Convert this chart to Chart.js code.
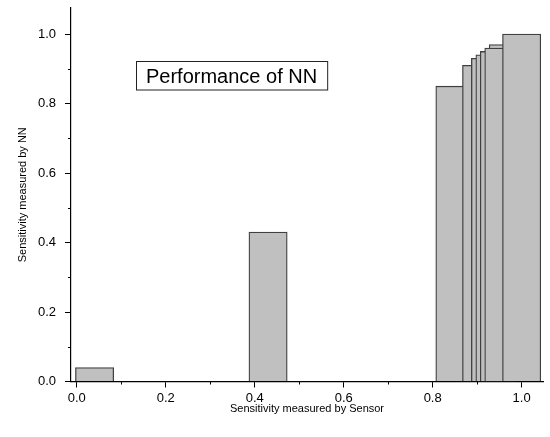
<!DOCTYPE html>
<html>
<head>
<meta charset="utf-8">
<script src="https://cdn.jsdelivr.net/npm/chart.js@4.4.0/dist/chart.umd.min.js"></script>
<style>
  html, body { margin: 0; padding: 0; background: #fff; }
</style>
</head>
<body>
<canvas id="perfChart" width="550" height="437"></canvas>
<script>
// sensor value = bar centre, NN value = bar height (draw order matters, bars overlap)
const sensorValues = [0.04, 0.43, 0.85, 0.91, 0.93, 0.94, 0.95, 0.97, 0.96, 1.0];
const nnValues = [0.04, 0.43, 0.85, 0.91, 0.93, 0.94, 0.95, 0.97, 0.96, 1.0];
const xTickLabels = ["0.0", "0.2", "0.4", "0.6", "0.8", "1.0"];
const yTickLabels = ["0.0", "0.2", "0.4", "0.6", "0.8", "1.0"];
const boxTitle = "Performance of NN";

const FONT = '"Liberation Sans", Arial, sans-serif';

const isMajor = (labels, v) => labels.includes(v.toFixed(1)) && Math.abs(v * 5 - Math.round(v * 5)) < 1e-6;

// keep only ticks on 0.1 steps
function tenthTicks(scale) {
  scale.ticks = scale.ticks.filter(t => Math.abs(t.value * 10 - Math.round(t.value * 10)) < 1e-6);
}

const minorTicks = {
  id: "minorTicks",
  afterDraw(chart) {
    const ctx = chart.ctx;
    const xs = chart.scales.x, ys = chart.scales.y;
    ctx.save();
    ctx.strokeStyle = "#000";
    ctx.lineWidth = 1;
    xs.ticks.forEach(t => {
      if (isMajor(xTickLabels, t.value)) return;
      const px = Math.round(xs.getPixelForValue(t.value)) + 0.5;
      ctx.beginPath();
      ctx.moveTo(px, ys.bottom);
      ctx.lineTo(px, ys.bottom + 3);
      ctx.stroke();
    });
    ys.ticks.forEach(t => {
      if (isMajor(yTickLabels, t.value)) return;
      const py = Math.round(ys.getPixelForValue(t.value)) + 0.5;
      ctx.beginPath();
      ctx.moveTo(xs.left, py);
      ctx.lineTo(xs.left - 3, py);
      ctx.stroke();
    });

    // text box
    ctx.font = "20px " + FONT;
    const w = ctx.measureText(boxTitle).width;
    const bx = 136.5, by = 61.5, bh = 28.5;
    ctx.fillStyle = "#fff";
    ctx.fillRect(bx, by, w + 20, bh);
    ctx.strokeStyle = "#222";
    ctx.strokeRect(bx, by, w + 20, bh);
    ctx.fillStyle = "#000";
    ctx.textBaseline = "alphabetic";
    ctx.fillText(boxTitle, bx + 9.5, 82.5);
    ctx.restore();
  }
};

new Chart(document.getElementById("perfChart"), {
  type: "bar",
  data: {
    datasets: [{
      data: sensorValues.map((x, i) => ({ x: x, y: nnValues[i] })),
      backgroundColor: "#c0c0c0",
      borderColor: "#404040",
      borderWidth: 1.3,
      barThickness: 38.3
    }]
  },
  options: {
    responsive: false,
    animation: false,
    layout: { padding: { top: 8, right: 7, left: 0, bottom: 0 } },
    plugins: { legend: { display: false }, tooltip: { enabled: false } },
    scales: {
      x: {
        type: "linear",
        min: -0.013,
        max: 1.048,
        offset: false,
        afterBuildTicks: tenthTicks,
        afterFit: s => { s.height = 55.5; s.paddingLeft = 0; s.paddingRight = 0; },
        grid: {
          drawOnChartArea: false,
          offset: false,
          tickLength: 6,
          tickColor: c => (c.tick && isMajor(xTickLabels, c.tick.value)) ? "#000" : "rgba(0,0,0,0)"
        },
        border: { color: "#000", width: 1.2 },
        ticks: {
          stepSize: 0.1,
          includeBounds: false,
          autoSkip: false,
          maxRotation: 0,
          padding: 3,
          color: "#000",
          font: { family: FONT, size: 13 },
          callback: v => isMajor(xTickLabels, v) ? xTickLabels[xTickLabels.indexOf(v.toFixed(1))] : ""
        },
        title: {
          display: true,
          text: "Sensitivity measured by Sensor",
          color: "#000",
          font: { family: FONT, size: 11 },
          padding: { top: 0, bottom: 21 }
        }
      },
      y: {
        type: "linear",
        min: 0,
        max: 1.075,
        afterBuildTicks: tenthTicks,
        afterFit: s => { s.width = 71; s.paddingTop = 0; s.paddingBottom = 0; },
        grid: {
          drawOnChartArea: false,
          tickLength: 6,
          tickColor: c => (c.tick && isMajor(yTickLabels, c.tick.value)) ? "#000" : "rgba(0,0,0,0)"
        },
        border: { color: "#000", width: 1.2 },
        ticks: {
          stepSize: 0.1,
          includeBounds: false,
          autoSkip: false,
          padding: 9,
          color: "#000",
          font: { family: FONT, size: 13 },
          callback: v => isMajor(yTickLabels, v) ? yTickLabels[yTickLabels.indexOf(v.toFixed(1))] : ""
        },
        title: {
          display: true,
          text: "Sensitivity measured by NN",
          color: "#000",
          font: { family: FONT, size: 11 },
          padding: { top: 16, bottom: 0 }
        }
      }
    }
  },
  plugins: [minorTicks]
});
</script>
</body>
</html>
